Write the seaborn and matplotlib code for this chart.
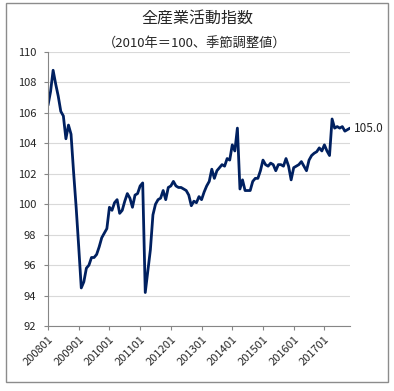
"""全産業活動指数 (2010=100, seasonally adjusted), monthly 2008-01 to 2017-11."""

import matplotlib
matplotlib.use("Agg")
import matplotlib.pyplot as plt
from matplotlib.patches import Rectangle
import pandas as pd
import seaborn as sns

# monthly index values
idx_2008 = [106.5, 107.4, 108.8, 107.9, 107.1, 106.1, 105.8, 104.3, 105.2, 104.6, 102.1, 99.8]
idx_2009 = [97.2, 94.5, 94.9, 95.8, 96.0, 96.5, 96.5, 96.7, 97.2, 97.8, 98.1, 98.4]
idx_2010 = [99.8, 99.6, 100.1, 100.3, 99.4, 99.6, 100.2, 100.7, 100.4, 99.8, 100.6, 100.7]
idx_2011 = [101.2, 101.4, 94.2, 95.6, 97.0, 99.3, 100.0, 100.3, 100.4, 100.9, 100.3, 101.1]
idx_2012 = [101.2, 101.5, 101.2, 101.1, 101.1, 101.0, 100.9, 100.6, 99.9, 100.2, 100.1, 100.5]
idx_2013 = [100.3, 100.8, 101.2, 101.5, 102.3, 101.7, 102.2, 102.4, 102.6, 102.5, 103.0, 102.9]
idx_2014 = [103.9, 103.5, 105.0, 101.0, 101.6, 100.9, 100.9, 100.9, 101.5, 101.7, 101.7, 102.2]
idx_2015 = [102.9, 102.6, 102.5, 102.7, 102.6, 102.2, 102.6, 102.6, 102.5, 103.0, 102.5, 101.6]
idx_2016 = [102.4, 102.5, 102.6, 102.8, 102.5, 102.2, 102.9, 103.2, 103.35, 103.45, 103.7, 103.5]
idx_2017 = [103.9, 103.5, 103.2, 105.6, 105.0, 105.1, 105.0, 105.1, 104.8, 104.9, 105.0]

tick_labels = ["200801", "200901", "201001", "201101", "201201",
               "201301", "201401", "201501", "201601", "201701"]

title = "全産業活動指数"
subtitle = "（2010年＝100、季節調整値）"
line_color = "#002060"


def build_frame() -> pd.DataFrame:
    values = (idx_2008 + idx_2009 + idx_2010 + idx_2011 + idx_2012
              + idx_2013 + idx_2014 + idx_2015 + idx_2016 + idx_2017)
    months = pd.period_range("2008-01", periods=len(values), freq="M")
    return pd.DataFrame({
        "month": months.strftime("%Y%m"),
        "pos": range(len(values)),
        "value": values,
    })


def plot(df: pd.DataFrame) -> None:
    sns.set_theme(style="white")
    plt.rcParams["font.family"] = ["Noto Sans CJK JP", "DejaVu Sans"]

    fig = plt.figure(figsize=(3.94, 3.91), dpi=100)
    ax = fig.add_axes([48 / 394, 65 / 391, 302 / 394, 274 / 391])

    sns.lineplot(data=df, x="pos", y="value", ax=ax, color=line_color,
                 linewidth=2.0, solid_joinstyle="round")

    ax.set_xlim(0, len(df) - 1)
    ax.set_ylim(92, 110)
    ax.set_yticks(range(92, 111, 2))
    tick_pos = df.loc[df["month"].isin(tick_labels), "pos"]
    ax.set_xticks(tick_pos)
    ax.set_xticklabels(tick_labels, rotation=45, ha="right",
                       rotation_mode="anchor", fontsize=8)
    ax.tick_params(axis="y", labelsize=8, length=3, width=0.8,
                   color="#868686", pad=5.5, left=True)
    ax.tick_params(axis="x", length=3, width=0.8, color="#868686",
                   pad=3, bottom=True)
    ax.set_xlabel("")
    ax.set_ylabel("")

    ax.grid(axis="y", color="#d9d9d9", linewidth=0.8)
    ax.grid(axis="x", visible=False)
    for side in ["top", "right"]:
        ax.spines[side].set_visible(False)
    for side in ["left", "bottom"]:
        ax.spines[side].set_color("#868686")
        ax.spines[side].set_linewidth(0.8)

    last = df.iloc[-1]
    ax.annotate(f"{last['value']:.1f}", xy=(last["pos"], last["value"]),
                xytext=(3, 0), textcoords="offset points", va="center",
                ha="left", fontsize=8.5, color="#262626", annotation_clip=False)

    fig.text(0.5, 1 - 18 / 391, title, ha="center", va="center", fontsize=11.5)
    fig.text(0.495, 1 - 44 / 391, subtitle, ha="center", va="center", fontsize=9.5)

    fig.patches.append(Rectangle((6 / 394, 9 / 391), 382 / 394, 379 / 391,
                                 transform=fig.transFigure, fill=False,
                                 edgecolor="#8c8c8c", linewidth=1.0))

    fig.savefig("out.png", dpi=100)
    plt.close(fig)


if __name__ == "__main__":
    plot(build_frame())
